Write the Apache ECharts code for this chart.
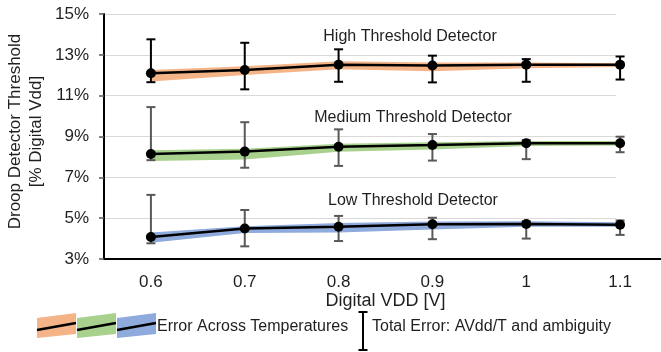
<!DOCTYPE html>
<html>
<head>
<meta charset="utf-8">
<script src="https://cdn.jsdelivr.net/npm/echarts@6/dist/echarts.min.js"></script>
<style>
  html, body { margin: 0; padding: 0; background: #ffffff; }
  #chart { width: 661px; height: 352px; }
</style>
</head>
<body>
<div id="chart"></div>
<script>
// Supply voltage points (V)
const vdd = ['0.6', '0.7', '0.8', '0.9', '1', '1.1'];

// High threshold detector (% of digital Vdd)
const highMean       = [12.10, 12.26, 12.52, 12.48, 12.52, 12.52];
const highTotalUp    = [13.76, 13.59, 13.27, 12.96, 12.79, 12.92];
const highTotalDown  = [11.66, 11.31, 11.68, 11.65, 11.68, 11.79];
const highTempTop    = [12.26, 12.44, 12.68, 12.63, 12.62, 12.59];
const highTempBottom = [11.70, 12.01, 12.30, 12.19, 12.34, 12.41];

// Medium threshold detector
const medMean        = [8.14, 8.26, 8.50, 8.58, 8.67, 8.67];
const medTotalUp     = [10.44, 9.70, 9.35, 9.12, 8.83, 8.99];
const medTotalDown   = [7.84, 7.47, 7.56, 7.82, 7.89, 8.23];
const medTempTop     = [8.33, 8.40, 8.64, 8.72, 8.78, 8.78];
const medTempBottom  = [7.80, 7.87, 8.25, 8.36, 8.53, 8.56];

// Low threshold detector
const lowMean        = [4.08, 4.49, 4.58, 4.70, 4.71, 4.68];
const lowTotalUp     = [6.14, 5.40, 5.11, 5.02, 4.85, 4.89];
const lowTotalDown   = [3.77, 3.62, 3.88, 3.97, 4.00, 4.18];
const lowTempTop     = [4.30, 4.60, 4.76, 4.84, 4.85, 4.80];
const lowTempBottom  = [3.80, 4.27, 4.30, 4.45, 4.58, 4.58];

const FONT = "'Liberation Sans', Arial, sans-serif";
const TEXT = '#1f1f1f';

// Temperature spread: transparent base line plus a stacked filled band on top
function tempBand(key, top, bottom, color) {
  return [
    {
      type: 'line', name: key + ' base', xAxisIndex: 1, yAxisIndex: 1,
      stack: key, data: bottom, symbol: 'none', silent: true, z: 1,
      lineStyle: { opacity: 0 }
    },
    {
      type: 'line', name: key, xAxisIndex: 1, yAxisIndex: 1,
      stack: key, data: top.map((t, i) => +(t - bottom[i]).toFixed(4)),
      symbol: 'none', silent: true, z: 1,
      lineStyle: { opacity: 0 },
      areaStyle: { color: color, opacity: 1 }
    }
  ];
}

// Total error: vertical bar with caps at both ends
function totalErrorBars(name, up, down, color) {
  return {
    type: 'custom', name: name, xAxisIndex: 1, yAxisIndex: 1, z: 3, silent: true,
    data: vdd.map((c, i) => [i, down[i], up[i]]),
    encode: { x: 0, y: [1, 2] },
    renderItem: function (params, api) {
      const lo = api.coord([api.value(0), api.value(1)]);
      const hi = api.coord([api.value(0), api.value(2)]);
      const cap = 4.5;
      const style = { stroke: color, lineWidth: 2 };
      return {
        type: 'group',
        children: [
          { type: 'line', shape: { x1: lo[0], y1: lo[1], x2: hi[0], y2: hi[1] }, style: style },
          { type: 'line', shape: { x1: hi[0] - cap, y1: hi[1], x2: hi[0] + cap, y2: hi[1] }, style: style },
          { type: 'line', shape: { x1: lo[0] - cap, y1: lo[1], x2: lo[0] + cap, y2: lo[1] }, style: style }
        ]
      };
    }
  };
}

function meanLine(name, data) {
  return {
    type: 'line', name: name, xAxisIndex: 1, yAxisIndex: 1, data: data, z: 4,
    symbol: 'circle', symbolSize: 10, silent: true,
    lineStyle: { color: '#000000', width: 2.5 },
    itemStyle: { color: '#000000' }
  };
}

const ORANGE = '#F4B487';
const GREEN  = '#A9D18E';
const BLUE   = '#8FAADC';

// Legend swatch: slanted band with a black line across it
function swatch(x0, x1, color) {
  return [
    { type: 'polygon', shape: { points: [[x0, 318], [x1, 313], [x1, 334], [x0, 338]] },
      style: { fill: color } },
    { type: 'line', shape: { x1: x0, y1: 330, x2: x1, y2: 323 },
      style: { stroke: '#000000', lineWidth: 2.5 } }
  ];
}

const chart = echarts.init(document.getElementById('chart'), null, { renderer: 'canvas' });

chart.setOption({
  animation: false,
  backgroundColor: '#ffffff',
  textStyle: { fontFamily: FONT },
  grid: [
    { left: 104, top: 14, width: 512, height: 245, containLabel: false, outerBoundsMode: 'none' },
    { left: 104, top: 14, width: 563, height: 245, containLabel: false, outerBoundsMode: 'none' }
  ],
  xAxis: [
    { gridIndex: 0, type: 'category', data: vdd, show: false },
    {
      gridIndex: 1, type: 'category', data: vdd, boundaryGap: true,
      axisLine: { lineStyle: { color: '#000000', width: 2 } },
      axisTick: { show: false },
      axisLabel: { color: TEXT, fontSize: 17, fontFamily: FONT, margin: 15 },
      splitLine: { show: false },
      name: 'Digital VDD [V]', nameLocation: 'middle', nameGap: 33, nameMoveOverlap: false,
      nameTextStyle: { color: TEXT, fontSize: 18, fontFamily: FONT }
    }
  ],
  yAxis: [
    {
      gridIndex: 0, type: 'value', min: 3, max: 15, interval: 2,
      axisLine: { show: true, lineStyle: { color: '#000000', width: 2 } },
      axisTick: { show: true, length: 5, lineStyle: { color: '#595959', width: 1.5 } },
      axisLabel: { color: TEXT, fontSize: 17, fontFamily: FONT, margin: 15, formatter: '{value}%' },
      splitLine: { show: true, lineStyle: { color: '#d9d9d9', width: 1 } },
      name: 'Droop Detector Threshold\n[% Digital Vdd]',
      nameLocation: 'middle', nameRotate: 90, nameGap: 57, nameMoveOverlap: false,
      nameTextStyle: { color: TEXT, fontSize: 17, fontFamily: FONT, lineHeight: 21, padding: [0, 0, 0, 10] }
    },
    { gridIndex: 1, type: 'value', min: 3, max: 15, interval: 2, show: false, splitLine: { show: false } }
  ],
  series: [
    ...tempBand('High', highTempTop, highTempBottom, ORANGE),
    ...tempBand('Medium', medTempTop, medTempBottom, GREEN),
    ...tempBand('Low', lowTempTop, lowTempBottom, BLUE),
    totalErrorBars('High total error', highTotalUp, highTotalDown, '#000000'),
    totalErrorBars('Medium total error', medTotalUp, medTotalDown, '#595959'),
    totalErrorBars('Low total error', lowTotalUp, lowTotalDown, '#595959'),
    meanLine('High Threshold Detector', highMean),
    meanLine('Medium Threshold Detector', medMean),
    meanLine('Low Threshold Detector', lowMean)
  ],
  graphic: [
    // Detector annotations
    { type: 'text', x: 410, y: 37, style: { text: 'High Threshold Detector', fontSize: 16, fontFamily: FONT, fill: TEXT, align: 'center', verticalAlign: 'middle' } },
    { type: 'text', x: 413, y: 118, style: { text: 'Medium Threshold Detector', fontSize: 16, fontFamily: FONT, fill: TEXT, align: 'center', verticalAlign: 'middle' } },
    { type: 'text', x: 413, y: 201, style: { text: 'Low Threshold Detector', fontSize: 16, fontFamily: FONT, fill: TEXT, align: 'center', verticalAlign: 'middle' } },
    // Legend
    ...swatch(37, 76, ORANGE),
    ...swatch(77, 116, GREEN),
    ...swatch(117, 156, BLUE),
    { type: 'text', x: 157, y: 327, style: { text: 'Error Across Temperatures', fontSize: 16, fontFamily: FONT, fill: TEXT, align: 'left', verticalAlign: 'middle' } },
    { type: 'line', shape: { x1: 363, y1: 312, x2: 363, y2: 350 }, style: { stroke: '#000000', lineWidth: 2 } },
    { type: 'line', shape: { x1: 358.5, y1: 312, x2: 367.5, y2: 312 }, style: { stroke: '#000000', lineWidth: 2 } },
    { type: 'line', shape: { x1: 358.5, y1: 350, x2: 367.5, y2: 350 }, style: { stroke: '#000000', lineWidth: 2 } },
    { type: 'text', x: 372, y: 327, style: { text: 'Total Error: AVdd/T and ambiguity', fontSize: 16, fontFamily: FONT, fill: TEXT, align: 'left', verticalAlign: 'middle' } }
  ]
});
</script>
</body>
</html>
